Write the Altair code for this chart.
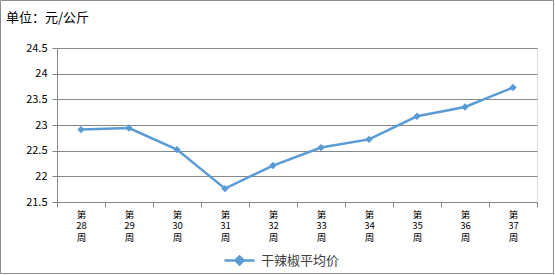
import altair as alt
import pandas as pd

weeks = ["第28周", "第29周", "第30周", "第31周", "第32周", "第33周", "第34周", "第35周", "第36周", "第37周"]
prices = [22.91, 22.94, 22.52, 21.76, 22.21, 22.56, 22.72, 23.17, 23.35, 23.73]
series_name = "干辣椒平均价"
unit_label = "单位：元/公斤"
y_ticks = [21.5, 22, 22.5, 23, 23.5, 24, 24.5]

df = pd.DataFrame({"week": weeks, "price": prices, "series": [series_name] * len(weeks)})

BLUE = "#5B9BD5"
GRAY = "#868686"
FONT = "Noto Sans CJK SC"

line = alt.Chart(df).mark_line(
    strokeWidth=2.5,
    point=alt.OverlayMarkDef(shape="diamond", size=55, filled=True, color=BLUE),
).encode(
    x=alt.X(
        "week:N",
        sort=None,
        bandPosition=0.5,
        scale=alt.Scale(type="band", paddingInner=0, paddingOuter=0),
        axis=alt.Axis(
            title=None,
            labelAngle=0,
            labelExpr="length(datum.label) > 2 ? ['第', substring(datum.label, 1, 3), '周'] : ''",
            labelFontSize=9.5,
            labelLineHeight=11.5,
            labelColor="#000000",
            labelFont=FONT,
            labelBaseline="top",
            labelPadding=2,
            tickBand="extent",
            tickSize=5,
            tickColor=GRAY,
            domainColor=GRAY,
            grid=False,
        ),
    ),
    y=alt.Y(
        "price:Q",
        scale=alt.Scale(domain=[21.5, 24.5], nice=False, zero=False),
        axis=alt.Axis(
            title=None,
            values=y_ticks,
            format="~g",
            labelFontSize=11,
            labelColor="#000000",
            labelFont=FONT,
            labelPadding=5,
            tickSize=5,
            tickColor=GRAY,
            domainColor=GRAY,
            gridColor=GRAY,
            grid=True,
        ),
    ),
    color=alt.Color(
        "series:N",
        scale=alt.Scale(range=[BLUE]),
        legend=alt.Legend(
            title=None,
            orient="none",
            legendX=166,
            legendY=196,
            padding=0,
            symbolType="M-1,0H1M-0.27,0L0,-0.27L0.27,0L0,0.27Z",
            symbolSize=900,
            symbolStrokeWidth=2.5,
            symbolStrokeColor=BLUE,
            symbolFillColor=BLUE,
            labelFontSize=13,
            labelFont=FONT,
            labelColor="#404040",
            labelOffset=5,
        ),
    ),
)

border = alt.Chart(alt.Data(values=[{}])).mark_rect(
    fill=None, stroke="#8c8c8c", strokeWidth=1, clip=False
).encode(
    x=alt.value(-56.5), x2=alt.value(496.5), y=alt.value(-47.5), y2=alt.value(225.5)
)

unit = alt.Chart(alt.Data(values=[{"t": unit_label}])).mark_text(
    align="left", baseline="middle", fontSize=13, font=FONT, color="#000000"
).encode(
    x=alt.value(-51), y=alt.value(-30), text="t:N"
)

chart = alt.layer(border, unit, line).properties(
    width=480,
    height=154,
    padding={"left": 57, "top": 48, "right": 18, "bottom": 73},
    autosize=alt.AutoSizeParams(type="none"),
).configure_view(stroke=None).configure(background="white")

chart.save("out.html", embed_options={"renderer": "svg", "actions": False})
